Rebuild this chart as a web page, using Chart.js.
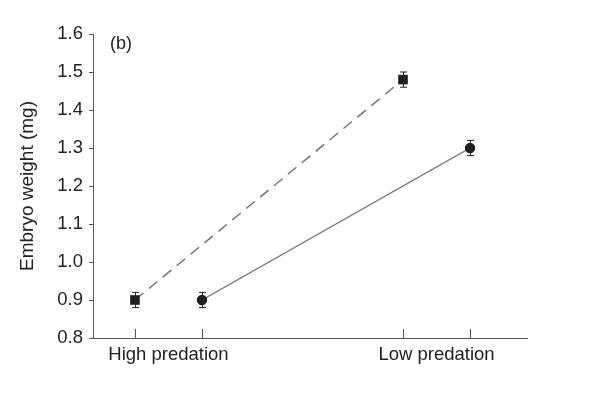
<!DOCTYPE html>
<html>
<head>
<meta charset="utf-8">
<script src="https://cdn.jsdelivr.net/npm/chart.js@4/dist/chart.umd.min.js"></script>
<style>
html,body{margin:0;padding:0;background:#fff;}
#wrap{width:610px;height:394px;position:relative;}
</style>
</head>
<body>
<div id="wrap"><canvas id="c" width="610" height="394"></canvas></div>
<script>
// Data
const categories = ["High predation", "Low predation"];
const categoryPositions = [1, 3];
const seriesOffset = [-0.25, 0.25];          // squares left, circles right of category centre
const squareValues = [0.90, 1.48];
const squareErrors = [0.02, 0.02];
const circleValues = [0.90, 1.30];
const circleErrors = [0.02, 0.02];
const yTicks = [0.8, 0.9, 1.0, 1.1, 1.2, 1.3, 1.4, 1.5, 1.6];
const panelLabel = "(b)";

const FONT = "'Liberation Sans', Arial, sans-serif";
const TEXT = '#222';
const AXIS = '#555';

function pts(vals, off) {
  return vals.map((v, i) => ({x: categoryPositions[i] + off, y: v}));
}

const errorBars = {
  id: 'errorBars',
  afterDatasetsDraw(chart) {
    const ctx = chart.ctx, xs = chart.scales.x, ys = chart.scales.y;
    const sets = [[squareValues, squareErrors, seriesOffset[0]], [circleValues, circleErrors, seriesOffset[1]]];
    ctx.save();
    ctx.strokeStyle = '#222';
    ctx.lineWidth = 1;
    sets.forEach(([vals, errs, off]) => {
      vals.forEach((v, i) => {
        const px = Math.round(xs.getPixelForValue(categoryPositions[i] + off)) + 0.5;
        const top = ys.getPixelForValue(v + errs[i]);
        const bot = ys.getPixelForValue(v - errs[i]);
        ctx.beginPath();
        ctx.moveTo(px, top); ctx.lineTo(px, bot);
        ctx.moveTo(px - 3.5, top); ctx.lineTo(px + 3.5, top);
        ctx.moveTo(px - 3.5, bot); ctx.lineTo(px + 3.5, bot);
        ctx.stroke();
      });
    });
    ctx.restore();
  }
};

const decorations = {
  id: 'decorations',
  afterDraw(chart) {
    const ctx = chart.ctx, xs = chart.scales.x, ys = chart.scales.y;
    const area = chart.chartArea;
    ctx.save();
    // inward x tick marks at each point position
    ctx.strokeStyle = AXIS;
    ctx.lineWidth = 1;
    seriesOffset.forEach(off => {
      categoryPositions.forEach(p => {
        const px = Math.round(xs.getPixelForValue(p + off)) + 0.5;
        ctx.beginPath();
        ctx.moveTo(px, area.bottom);
        ctx.lineTo(px, area.bottom - 9);
        ctx.stroke();
      });
    });
    // panel label
    ctx.fillStyle = TEXT;
    ctx.font = "18px " + FONT;
    ctx.textAlign = 'left';
    ctx.textBaseline = 'middle';
    ctx.fillText(panelLabel, area.left + 17, area.top + 10);
    ctx.restore();
  }
};

new Chart(document.getElementById('c'), {
  type: 'scatter',
  data: {
    datasets: [
      {
        label: 'squares',
        data: pts(squareValues, seriesOffset[0]),
        showLine: true,
        borderColor: '#6e6e6e',
        borderWidth: 1.4,
        borderDash: [11, 7],
        pointStyle: 'rect',
        pointRadius: 6.8,
        pointBackgroundColor: '#1e1e1e',
        pointBorderColor: '#1e1e1e',
        pointBorderWidth: 0
      },
      {
        label: 'circles',
        data: pts(circleValues, seriesOffset[1]),
        showLine: true,
        borderColor: '#6e6e6e',
        borderWidth: 1.4,
        pointStyle: 'circle',
        pointRadius: 5.2,
        pointBackgroundColor: '#1e1e1e',
        pointBorderColor: '#1e1e1e',
        pointBorderWidth: 0
      }
    ]
  },
  options: {
    responsive: false,
    animation: false,
    layout: {padding: {left: 0, top: 34, right: 83, bottom: 0}},
    plugins: {legend: {display: false}, tooltip: {enabled: false}},
    scales: {
      x: {
        type: 'linear',
        min: 0.437,
        max: 3.675,
        afterBuildTicks(scale) { scale.ticks = categoryPositions.map(v => ({value: v})); },
        afterFit(scale) { scale.height = 56; },
        ticks: {
          autoSkip: false,
          maxRotation: 0,
          padding: 6,
          color: TEXT,
          font: {family: FONT, size: 18.5},
          callback(value) {
            const i = categoryPositions.indexOf(value);
            return i >= 0 ? categories[i] : '';
          }
        },
        grid: {display: true, drawOnChartArea: false, drawTicks: false, color: AXIS},
        border: {display: true, color: AXIS, width: 1}
      },
      y: {
        min: 0.8,
        max: 1.6,
        afterBuildTicks(scale) { scale.ticks = yTicks.map(v => ({value: v})); },
        afterFit(scale) { scale.width = 93; },
        ticks: {
          padding: 6,
          color: TEXT,
          font: {family: FONT, size: 18.5},
          callback(value) { return value.toFixed(1); }
        },
        grid: {drawOnChartArea: false, drawTicks: true, tickLength: 4, color: AXIS},
        border: {display: true, color: AXIS, width: 1},
        title: {
          display: true,
          text: 'Embryo weight (mg)',
          color: TEXT,
          font: {family: FONT, size: 19},
          padding: {top: 16, bottom: 0}
        }
      }
    }
  },
  plugins: [errorBars, decorations]
});
</script>
</body>
</html>
